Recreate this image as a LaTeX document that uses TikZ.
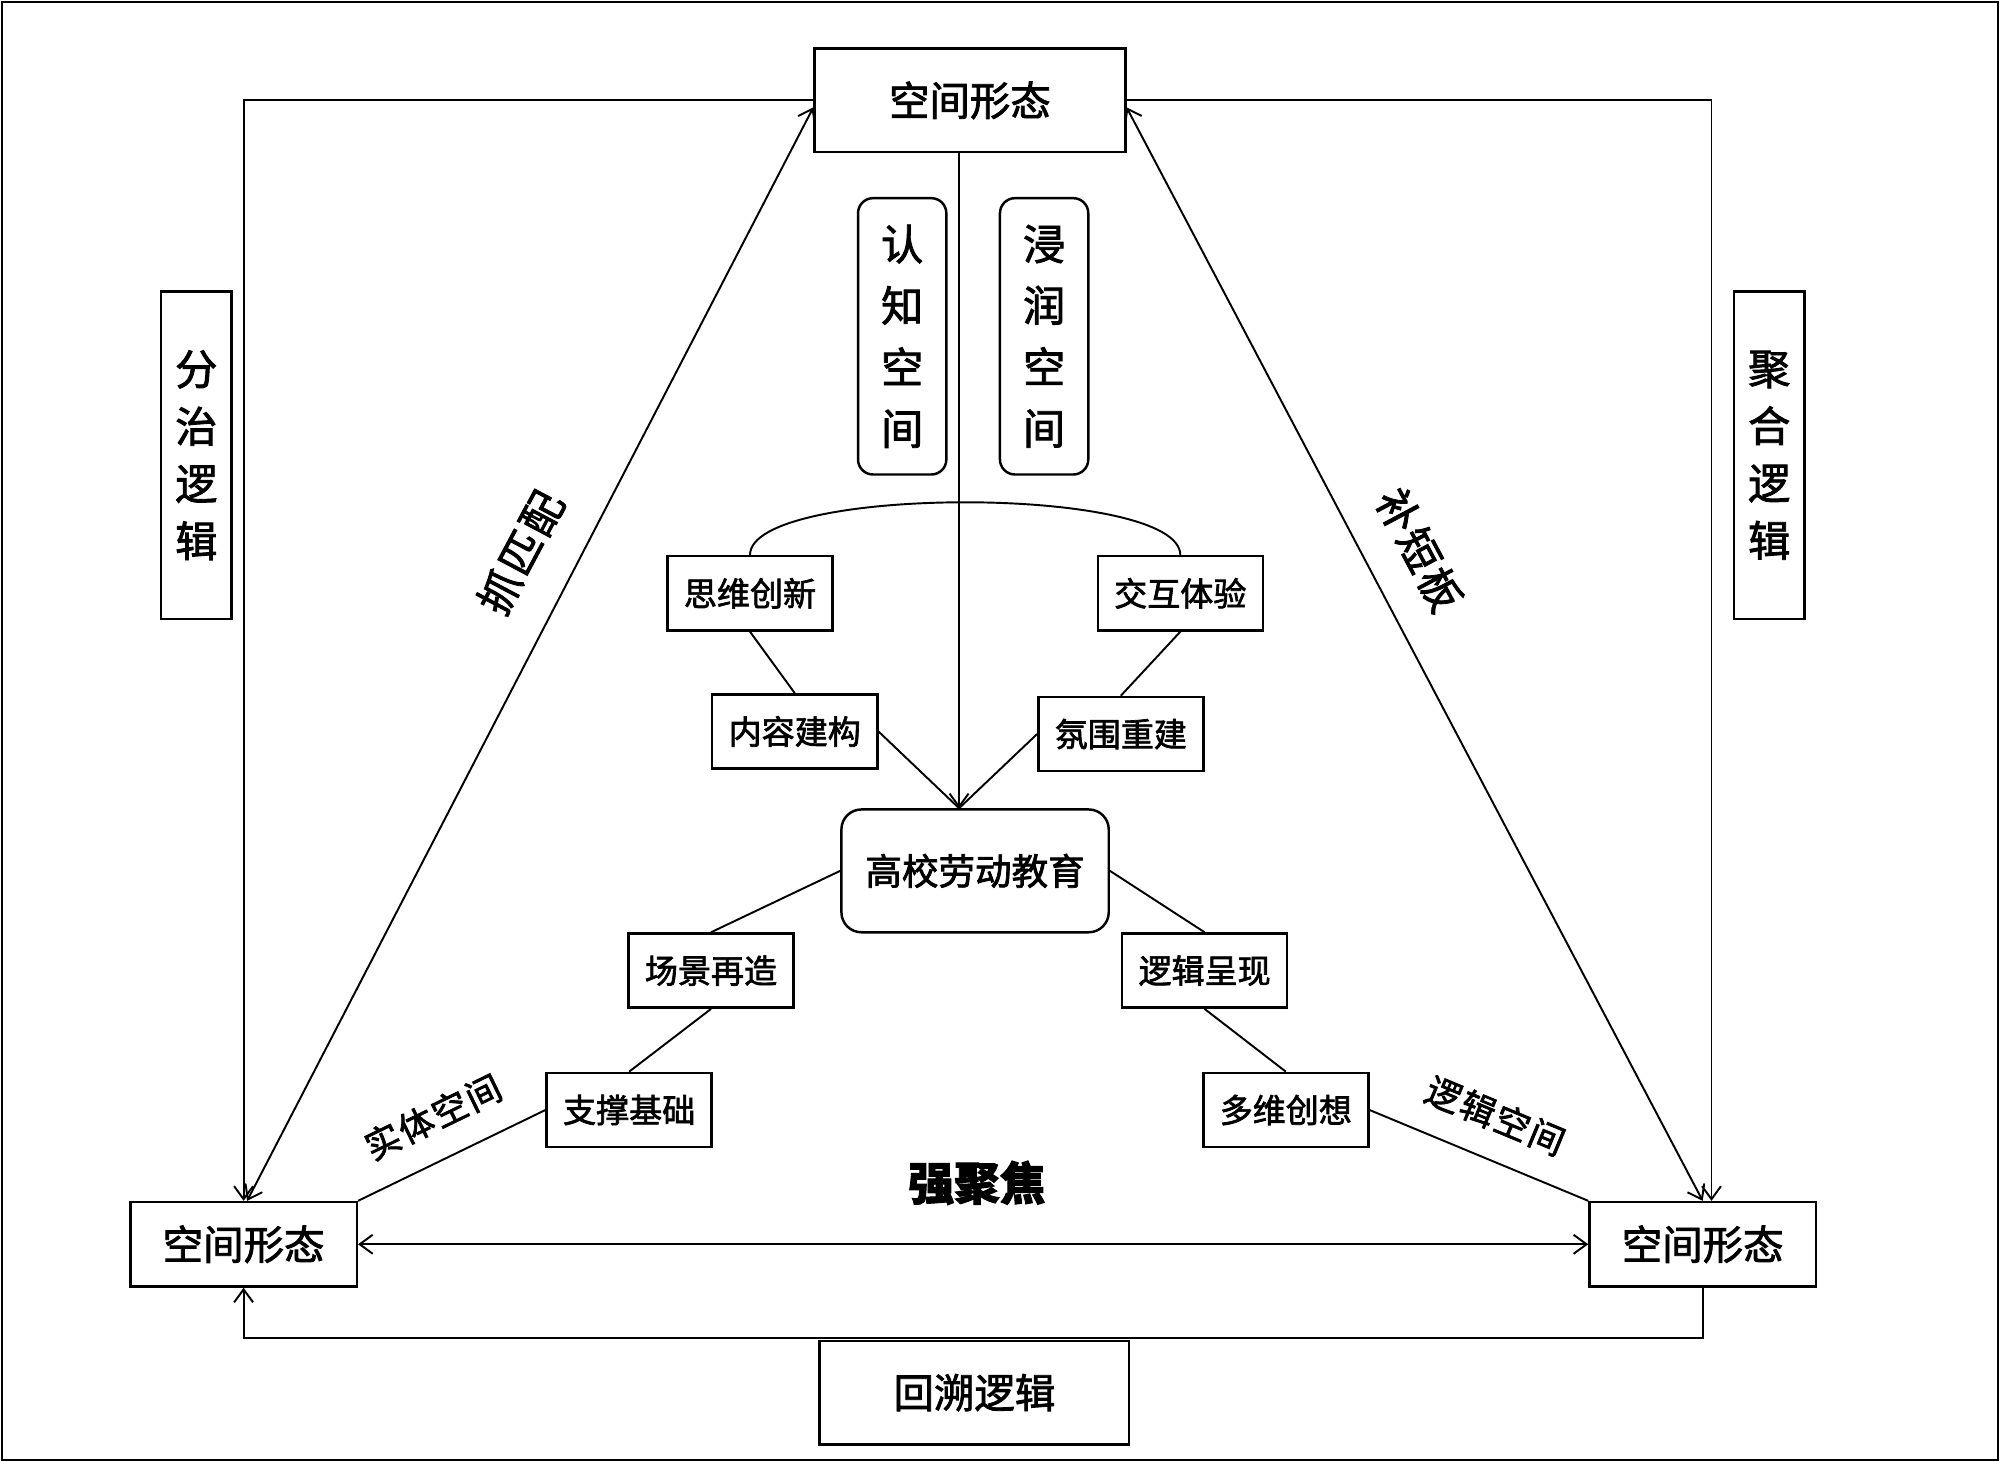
\documentclass[tikz,border=0pt]{standalone}
\usepackage{fontspec}
\setmainfont{Noto Sans CJK SC}[FakeBold=2]
\newfontfamily\slant{Noto Sans CJK SC}[FakeBold=2, LetterSpace=6]
\usepackage{tikz}
\usetikzlibrary{arrows.meta, positioning, calc}

\begin{document}
\begin{tikzpicture}[x=0.01279cm, y=-0.01279cm,
  box/.style={draw, line width=0.7pt, inner sep=0pt, align=center},
  form/.style={box, minimum width=2.264cm, minimum height=0.844cm, font=\fontsize{11.5}{14}\selectfont},
  small/.style={box, minimum width=1.65cm, minimum height=0.742cm, font=\fontsize{9.4}{12}\selectfont},
  side/.style={box, minimum width=0.703cm, minimum height=3.274cm, font=\fontsize{12}{16.3}\selectfont},
  space/.style={box, rounded corners=0.15cm, minimum width=0.883cm, minimum height=2.763cm, font=\fontsize{12}{17.5}\selectfont},
  line/.style={draw, line width=0.55pt},
  arr/.style={line, -{Straight Barb[length=3.7pt, width=5.4pt]}},
  darr/.style={line, {Straight Barb[length=3.7pt, width=5.4pt]}-{Straight Barb[length=3.7pt, width=5.4pt]}},
  lab/.style={font=\slant\fontsize{12}{14}\selectfont},
  linelab/.style={midway, above=4pt, sloped, font=\slant\fontsize{10}{12}\selectfont}]
  \useasboundingbox (0,0) rectangle (1564,1143);
  \draw[line width=0.7pt] (1.5,1.5) rectangle (1562.5,1141.5);

  % three forms of space
  \node[form, minimum width=3.108cm, minimum height=1.036cm] (top) at (758.5,78.5) {空间形态};
  \node[form] (lft) at (190.5,973) {空间形态};
  \node[form] (rgt) at (1331.5,973) {空间形态};
  \node[form, minimum width=3.095cm, minimum height=1.036cm] (back) at (762,1089) {回溯逻辑};
  \node[side] (split) at (153.5,356) {分\\治\\逻\\辑};
  \node[side] (merge) at (1383.5,356) {聚\\合\\逻\\辑};

  % inner part
  \node[space] (cog) at (705.5,263) {认\\知\\空\\间};
  \node[space] (imm) at (816.5,263) {浸\\润\\空\\间};
  \node[small] (sw) at (586.5,464) {思维创新};
  \node[small] (jh) at (923,464) {交互体验};
  \node[small] (nr) at (621.5,572) {内容建构};
  \node[small] (fw) at (876.5,574) {氛围重建};
  \node[box, rounded corners=0.2cm, minimum width=2.673cm, minimum height=1.228cm, font=\fontsize{10.4}{13}\selectfont] (edu) at (762.5,681) {高校劳动教育};
  \node[small] (cj) at (556,759) {场景再造};
  \node[small] (lj) at (942,759) {逻辑呈现};
  \node[small] (zc) at (492,868) {支撑基础};
  \node[small] (dw) at (1005.5,868) {多维创想};

  \node[lab, rotate=62] (zpp) at (407,432) {抓匹配};
  \node[lab, rotate=-62] (bdb) at (1110,430) {补短板};
  \node[font=\fontsize{13}{15}\selectfont\bfseries] (qjj) at (764,925) {强聚焦};

  % outer connectors
  \draw[arr] (top.west) -| (lft.north);
  \draw[arr] (top.east) -| ([xshift=2.5pt]rgt.north);
  \draw[arr] (rgt.south) -- ++(0,39) -| (lft.south);
  \draw[darr] (lft.east) -- (rgt.west);
  \draw[darr] ([xshift=1pt]lft.north) -- ([yshift=-2pt]top.west);
  \draw[darr] (rgt.north) -- ([yshift=-2pt]top.east);

  % inner connectors
  \coordinate (tip) at ([xshift=-1.6mm]edu.north);
  \draw[arr] (tip |- top.south) -- (tip);
  \draw[line] (sw.north) .. controls +(0,-55) and +(0,-55) .. (jh.north);
  \draw[line] (sw.south) -- (nr.north);
  \draw[line] (jh.south) -- (fw.north);
  \draw[line] (nr.east) -- (tip);
  \draw[line] (fw.west) -- (tip);
  \draw[line] (edu.west) -- (cj.north);
  \draw[line] (edu.east) -- (lj.north);
  \draw[line] (cj.south) -- (zc.north);
  \draw[line] (lj.south) -- (dw.north);
  \draw[line] (lft.north east) -- (zc.west) node[linelab] {实体空间};
  \draw[line] (dw.east) -- (rgt.north west) node[linelab] {逻辑空间};
\end{tikzpicture}
\end{document}
